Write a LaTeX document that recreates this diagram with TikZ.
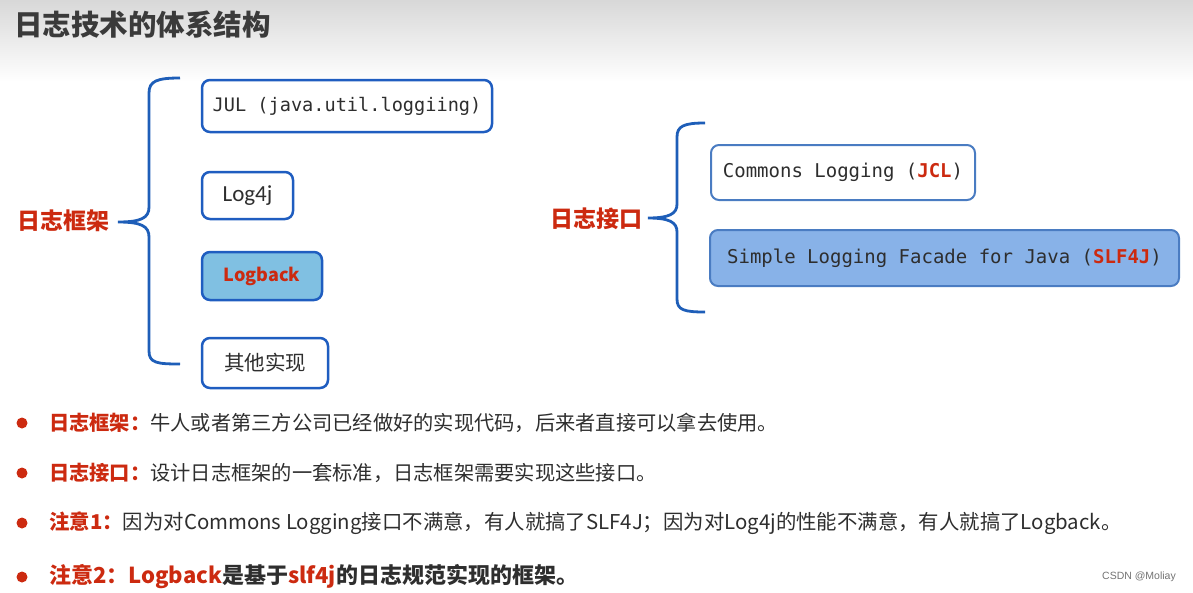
\documentclass[tikz,border=0pt]{standalone}
\usepackage{fontspec}
\setmainfont{Noto Sans CJK SC}
\newfontfamily\codefont{DejaVu Sans Mono}
\newfontfamily\boxfont{Carlito}
\newfontfamily\markfont{Liberation Sans}
\usetikzlibrary{positioning}
\definecolor{ink}{HTML}{2E2E2E}
\definecolor{titleink}{HTML}{3A3A3A}
\definecolor{bracecol}{HTML}{1E5EB8}
\definecolor{frame}{HTML}{1F5DC0}
\definecolor{frametwo}{HTML}{4A7CC2}
\definecolor{hot}{HTML}{CC2A10}
\definecolor{skyfill}{HTML}{80C0E2}
\definecolor{bluefill}{HTML}{88B2E8}
\definecolor{band}{HTML}{D8D8D8}

\begin{document}
\begin{tikzpicture}[x=1pt,y=-1pt,
  fw/.style={draw=frame,line width=2.5pt,rounded corners=8pt,fill=white,
             inner sep=0pt,text=ink},
  it/.style={draw=frametwo,line width=2pt,rounded corners=8pt,fill=white,
             inner sep=0pt,text=ink},
  brc/.style={draw=bracecol,line width=2.8pt},
  lbl/.style={font=\fontsize{23}{26}\selectfont\bfseries,text=hot,inner sep=0pt},
  dot/.style={circle,fill=hot,minimum size=11pt,inner sep=0pt},
  txt/.style={anchor=west,inner sep=0pt,font=\fontsize{20.25}{24}\selectfont,text=ink}
]
\useasboundingbox (0,0) rectangle (1193,592);
\shade[top color=band,bottom color=white] (0,0) rectangle (1193,82);
\node[anchor=west,inner sep=0pt,text=titleink,font=\fontsize{28.5}{32}\selectfont\bfseries]
  (title) at (14,25) {日志技术的体系结构};

\node[lbl] (fwlbl) at (63,221) {日志框架};
\coordinate (fwtip) at (118,222);
\draw[brc] (180,78) .. controls (157,78) and (149,81) .. (149,93) -- (149,207)
  .. controls (149,218) and (141,222) .. (fwtip)
  .. controls (141,222) and (149,226) .. (149,237) -- (149,351)
  .. controls (149,363) and (157,364) .. (180,364);
\node[fw,minimum width=290pt,minimum height=52pt,font=\codefont\fontsize{18.6}{22}\selectfont]
  (jul) at (347,106) {JUL (java.util.loggiing)};
\node[fw,minimum width=91pt,minimum height=47pt,font=\boxfont\fontsize{23}{26}\selectfont]
  (logfj) at (247.5,195.5) {Log4j};
\node[fw,fill=skyfill,minimum width=120pt,minimum height=48pt,
      font=\fontsize{18}{22}\selectfont\bfseries,text=hot]
  (logback) at (262,276) {Logback};
\node[fw,minimum width=126pt,minimum height=50pt,font=\fontsize{20.5}{24}\selectfont]
  (other) at (265,363) {其他实现};

\node[lbl] (iflbl) at (596.5,219) {日志接口};
\coordinate (iftip) at (648,218);
\draw[brc] (705,123) .. controls (684,123) and (677,126) .. (677,137) -- (677,204)
  .. controls (677,214) and (669,218) .. (iftip)
  .. controls (669,218) and (677,222) .. (677,232) -- (677,299)
  .. controls (677,310) and (684,312) .. (705,312);
\node[it,minimum width=264pt,minimum height=55pt,font=\codefont\fontsize{19}{22}\selectfont]
  (jcl) at (843,172.5) {Commons Logging ({\color{hot}\bfseries JCL})};
\node[it,fill=bluefill,minimum width=469pt,minimum height=56pt,
      font=\codefont\fontsize{19}{22}\selectfont]
  (slf) at (944.5,258) {Simple Logging Facade for Java ({\color{hot}\bfseries SLF4J})};

\node[dot] (d1) at (22,423) {};
\node[dot] (d2) at (22,473) {};
\node[dot] (d3) at (22,523) {};
\node[dot] (d4) at (22,577) {};
\node[txt] (t1) at (49,423)
  {{\color{hot}\bfseries 日志框架：}牛人或者第三方公司已经做好的实现代码，后来者直接可以拿去使用。};
\node[txt] (t2) at (49,473)
  {{\color{hot}\bfseries 日志接口：}设计日志框架的一套标准，日志框架需要实现这些接口。};
\node[txt,font=\fontsize{20.4}{24}\selectfont] (t3) at (49,523)
  {{\color{hot}\bfseries 注意1：}因为对Commons Logging接口不满意，有人就搞了SLF4J；因为对Log4j的性能不满意，有人就搞了Logback。};
\node[txt,font=\fontsize{22}{26}\selectfont\bfseries] (t4) at (49,577)
  {{\color{hot}注意2：Logback}是基于{\color{hot}slf4j}的日志规范实现的框架。};
\node[inner sep=0pt,text=black!55,font=\markfont\fontsize{10.5}{12}\selectfont]
  (mark) at (1139,577) {CSDN @Moliay};
\end{tikzpicture}
\end{document}
